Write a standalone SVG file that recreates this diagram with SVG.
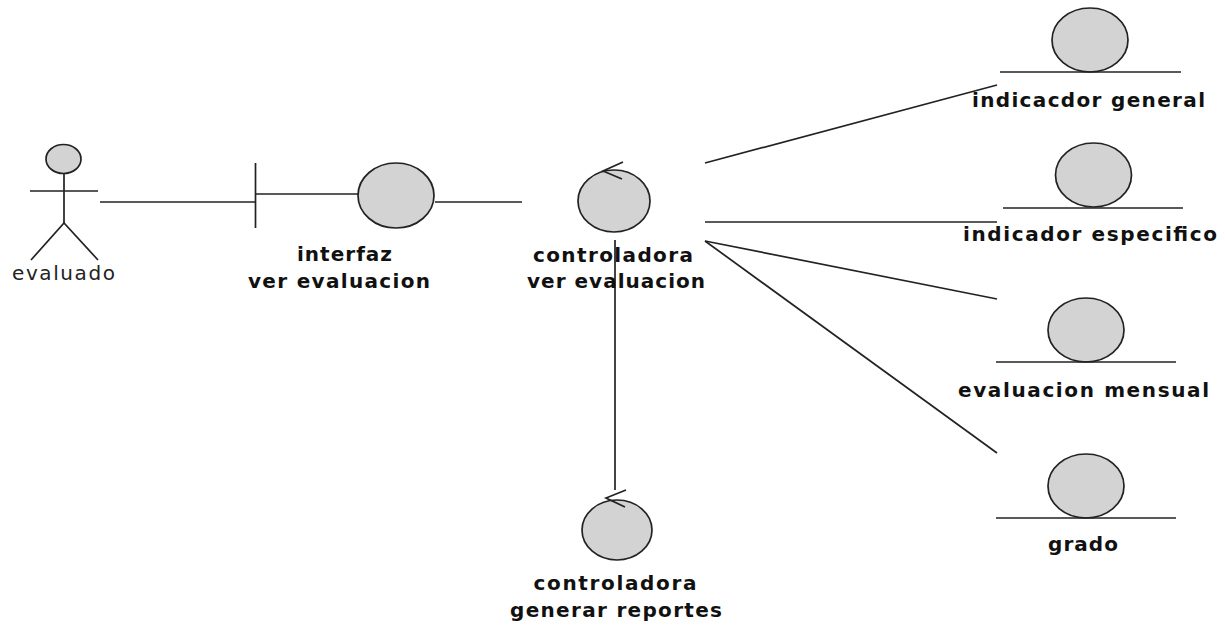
<svg xmlns="http://www.w3.org/2000/svg" width="1225" height="625" viewBox="0 0 1225 625">
  <style>
    .ln { stroke: #222; stroke-width: 1.7; fill: none; }
    .sh { fill: #d3d3d3; stroke: #222; stroke-width: 1.7; }
    .lb { font-family: "DejaVu Sans", "Liberation Sans", sans-serif; font-weight: bold; font-size: 20px; fill: #111; text-anchor: middle; }
    .ac { font-family: "DejaVu Sans", "Liberation Sans", sans-serif; font-size: 20px; fill: #222; text-anchor: middle; }
  </style>
  <rect width="1225" height="625" fill="#ffffff"/>

  <!-- associations -->
  <g id="connectors">
    <line class="ln" x1="100" y1="202" x2="255" y2="202"/>
    <line class="ln" x1="435" y1="202" x2="522" y2="202"/>
    <line class="ln" x1="615" y1="240" x2="615" y2="490"/>
    <line class="ln" x1="705" y1="163" x2="997" y2="85"/>
    <line class="ln" x1="705" y1="222" x2="997" y2="222"/>
    <line class="ln" x1="705" y1="241" x2="997" y2="299"/>
    <line class="ln" x1="705" y1="241" x2="997" y2="453"/>
  </g>

  <!-- actor -->
  <g id="evaluado">
    <ellipse class="sh" cx="63.5" cy="159" rx="17.5" ry="14.5"/>
    <line class="ln" x1="64" y1="173.5" x2="64" y2="223"/>
    <line class="ln" x1="30" y1="191" x2="98" y2="191"/>
    <polyline class="ln" points="31,260 64,223 98,260"/>
    <text class="ac" x="63.5" y="280" textLength="103" lengthAdjust="spacing">evaluado</text>
  </g>

  <!-- boundary -->
  <g id="interfaz-ver-evaluacion">
    <line class="ln" x1="255.5" y1="163" x2="255.5" y2="228"/>
    <line class="ln" x1="255.5" y1="194" x2="358" y2="194"/>
    <ellipse class="sh" cx="396" cy="195.5" rx="38" ry="32.5"/>
    <text class="lb" x="344.5" y="261" textLength="95" lengthAdjust="spacing">interfaz</text>
    <text class="lb" x="339" y="288" textLength="182" lengthAdjust="spacing">ver evaluacion</text>
  </g>

  <!-- controls -->
  <g id="controladora-ver-evaluacion">
    <ellipse class="sh" cx="614" cy="201" rx="36" ry="31"/>
    <polyline class="ln" points="623,162 603,171 622,179"/>
    <text class="lb" x="613" y="262" textLength="160" lengthAdjust="spacing">controladora</text>
    <text class="lb" x="616" y="288" textLength="178" lengthAdjust="spacing">ver evaluacion</text>
  </g>

  <g id="controladora-generar-reportes">
    <ellipse class="sh" cx="617" cy="530" rx="35" ry="30"/>
    <polyline class="ln" points="626,490 606,498 625,507"/>
    <text class="lb" x="615" y="590" textLength="163" lengthAdjust="spacing">controladora</text>
    <text class="lb" x="616" y="617" textLength="212" lengthAdjust="spacing">generar reportes</text>
  </g>

  <!-- entities -->
  <g id="indicacdor-general">
    <ellipse class="sh" cx="1090" cy="40" rx="38" ry="32"/>
    <line class="ln" x1="1000" y1="72" x2="1181" y2="72"/>
    <text class="lb" x="1088.5" y="107" textLength="233" lengthAdjust="spacing">indicacdor general</text>
  </g>

  <g id="indicador-especifico">
    <ellipse class="sh" cx="1093.5" cy="175" rx="38" ry="32"/>
    <line class="ln" x1="1003" y1="208" x2="1183" y2="208"/>
    <text class="lb" x="1090" y="241" textLength="254" lengthAdjust="spacing">indicador especifico</text>
  </g>

  <g id="evaluacion-mensual">
    <ellipse class="sh" cx="1086" cy="330" rx="38" ry="32"/>
    <line class="ln" x1="996" y1="362" x2="1176" y2="362"/>
    <text class="lb" x="1083.5" y="397" textLength="251" lengthAdjust="spacing">evaluacion mensual</text>
  </g>

  <g id="grado">
    <ellipse class="sh" cx="1086" cy="486" rx="38" ry="32"/>
    <line class="ln" x1="996" y1="518" x2="1176" y2="518"/>
    <text class="lb" x="1083" y="551" textLength="70" lengthAdjust="spacing">grado</text>
  </g>
</svg>
